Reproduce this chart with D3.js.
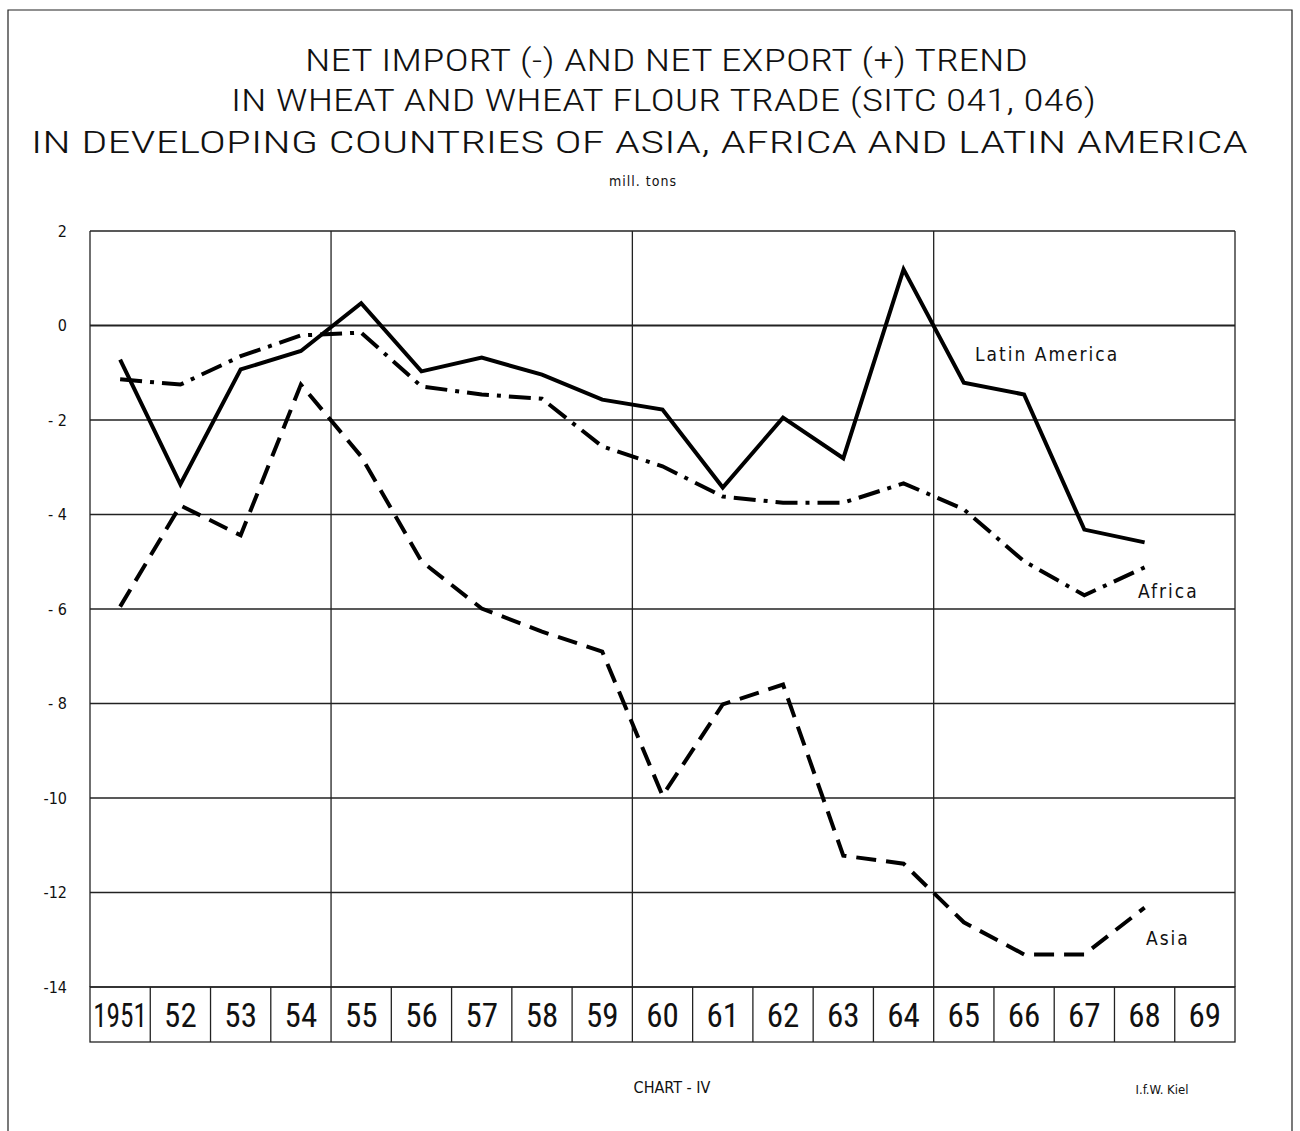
<!DOCTYPE html>
<html><head><meta charset="utf-8">
<script src="https://cdn.jsdelivr.net/npm/d3@7"></script>
<style>
html,body{margin:0;padding:0;background:#fff;}
svg{display:block;}
text{font-family:"DejaVu Sans Condensed","DejaVu Sans",sans-serif;font-stretch:condensed;fill:#111;}
.thin{font-family:Roboto,"DejaVu Sans",sans-serif;font-weight:300;}
.yr{font-family:Roboto,"DejaVu Sans",sans-serif;font-weight:400;}
</style></head>
<body>
<svg id="c" width="1300" height="1131"></svg>
<script>
// ---- data ----
const years = ["1951","52","53","54","55","56","57","58","59","60","61","62","63","64","65","66","67","68","69"];
const latinAmerica = [-0.72,-3.36,-0.93,-0.54,0.47,-0.97,-0.68,-1.04,-1.57,-1.78,-3.43,-1.95,-2.81,1.19,-1.21,-1.46,-4.32,-4.59];
const africa = [-1.14,-1.25,-0.65,-0.21,-0.15,-1.29,-1.46,-1.55,-2.56,-2.98,-3.62,-3.75,-3.75,-3.34,-3.89,-4.99,-5.71,-5.12];
const asia = [-5.95,-3.81,-4.44,-1.25,-2.77,-4.99,-5.99,-6.48,-6.90,-9.95,-8.02,-7.60,-11.22,-11.39,-12.63,-13.31,-13.31,-12.32];
const yTicks = [2,0,-2,-4,-6,-8,-10,-12,-14];
const yTickLabels = ["2","0","- 2","- 4","- 6","- 8","-10","-12","-14"];
const titleLines = ["NET IMPORT (-) AND NET EXPORT (+) TREND","IN WHEAT AND WHEAT FLOUR TRADE (SITC 041, 046)","IN DEVELOPING COUNTRIES OF ASIA, AFRICA AND LATIN AMERICA"];
const unitLabel = "mill. tons";
const seriesNames = ["Latin America","Africa","Asia"];

// ---- layout ----
const svg = d3.select("#c");
const L = 90, R = 1235, T = 231, B = 987;
const x = d3.scaleBand().domain(years).range([L, R]);
const y = d3.scaleLinear().domain([-14, 2]).range([B, T]);

// outer page frame
svg.append("path").attr("d","M8,1131 V10 H1292 V1131").attr("fill","none").attr("stroke","#222").attr("stroke-width",1.2);

// title
const tSpec = [{y:71,x0:305,x1:1028},{y:111,x0:231,x1:1096},{y:153,x0:31,x1:1248}];
titleLines.forEach((t,i)=>{
  svg.append("text").attr("class","thin").attr("x",tSpec[i].x0).attr("y",tSpec[i].y)
    .attr("font-size",32).attr("textLength",tSpec[i].x1-tSpec[i].x0).attr("lengthAdjust","spacingAndGlyphs")
    .text(t);
});
svg.append("text").attr("x",643).attr("y",186).attr("text-anchor","middle").attr("font-size",14).attr("letter-spacing",1).text(unitLabel);

// grid
const g = svg.append("g");
yTicks.forEach(v=>{
  g.append("line").attr("x1",L).attr("x2",R).attr("y1",y(v)).attr("y2",y(v))
   .attr("stroke","#222").attr("stroke-width", v===0?2.2:1.3);
});
g.append("line").attr("x1",L).attr("x2",L).attr("y1",T).attr("y2",B).attr("stroke","#222").attr("stroke-width",1.3);
g.append("line").attr("x1",R).attr("x2",R).attr("y1",T).attr("y2",B).attr("stroke","#222").attr("stroke-width",1.3);
["55","60","65"].forEach(yr=>{
  g.append("line").attr("x1",x(yr)).attr("x2",x(yr)).attr("y1",T).attr("y2",B).attr("stroke","#222").attr("stroke-width",1.3);
});

// y axis labels
const yAxis = d3.axisLeft(y).tickValues(yTicks).tickSize(0).tickPadding(23)
  .tickFormat(v=>yTickLabels[yTicks.indexOf(v)]);
const ya = svg.append("g").attr("transform",`translate(${L},0)`).call(yAxis);
ya.select(".domain").remove();
ya.selectAll("text").attr("font-size",16).style("font-family",'"DejaVu Sans Condensed","DejaVu Sans",sans-serif').attr("fill","#111");

// year boxes
const boxB = 1042;
const yb = svg.append("g");
yb.append("rect").attr("x",L).attr("y",B).attr("width",R-L).attr("height",boxB-B).attr("fill","none").attr("stroke","#222").attr("stroke-width",1.3);
years.forEach((yr,i)=>{
  if(i>0) yb.append("line").attr("x1",x(yr)).attr("x2",x(yr)).attr("y1",B).attr("y2",boxB).attr("stroke","#222").attr("stroke-width",1.3);
  const tx = yb.append("text").attr("class","yr").attr("x",x(yr)+x.bandwidth()/2).attr("y",1027).attr("text-anchor","middle")
    .attr("font-size",33).text(yr);
  if(yr==="1951") tx.attr("textLength",54).attr("lengthAdjust","spacingAndGlyphs");
});

// lines
const line = d3.line().x((d,i)=>x(years[i])+x.bandwidth()/2).y(d=>y(d));
const lg = svg.append("g").attr("fill","none").attr("stroke","#000").attr("stroke-width",4).attr("stroke-linejoin","miter");
lg.append("path").datum(latinAmerica).attr("d",line);
lg.append("path").datum(africa).attr("d",line).attr("stroke-dasharray","22 8 4 8");
lg.append("path").datum(asia).attr("d",line).attr("stroke-dasharray","20 10");

// series labels
svg.append("text").attr("x",975).attr("y",361).attr("font-size",19).attr("letter-spacing",2).text(seriesNames[0]);
svg.append("text").attr("x",1138).attr("y",598).attr("font-size",19).attr("letter-spacing",2).text(seriesNames[1]);
svg.append("text").attr("x",1146).attr("y",945).attr("font-size",19).attr("letter-spacing",2).text(seriesNames[2]);

// footer
svg.append("text").attr("x",672).attr("y",1093).attr("text-anchor","middle").attr("font-size",16).text("CHART - IV");
svg.append("text").attr("x",1162).attr("y",1094).attr("text-anchor","middle").attr("font-size",13).text("I.f.W. Kiel");
</script>
</body></html>
